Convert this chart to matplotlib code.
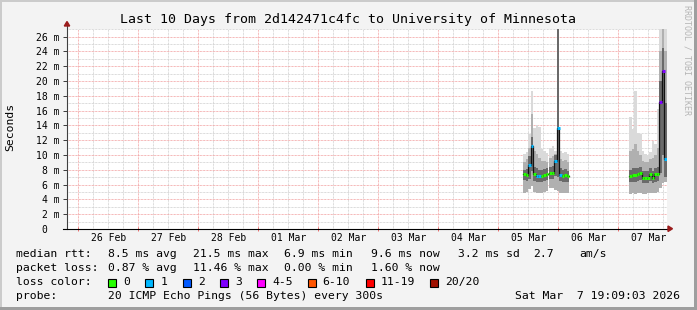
import numpy as np
import matplotlib
matplotlib.use('Agg')
import matplotlib.pyplot as plt
import matplotlib.dates as mdates
from matplotlib.patches import Rectangle, Polygon
from matplotlib.lines import Line2D

### Data (hours after 2026-03-05 00:00, one sample per hour)
hours = [10, 11, 12, 13, 14, 15, 16, 17, 18, 19,
         20.5, 21.5, 22.5, 23.5, 24.5, 25.5, 26.5, 27.5,
         52.5, 53.5, 54.5, 55.5, 56.5, 57.5, 58.5, 59.5, 60.5, 61.5, 62.5, 63.5, 64.5, 65.5, 66.5]
median = [7.4, 7.3, 8.7, 11.2, 7.4, 7.2, 7.1, 7.2, 7.3, 7.4,
          7.6, 7.6, 9.2, 13.7, 7.3, 7.1, 7.3, 7.1,
          7.1, 7.3, 7.3, 7.5, 7.6, 6.95, 6.95, 6.95, 7.5, 6.95, 7.4, 7.5, 17.2, 21.4, 9.5]
loss = [0, 0, 1, 1, 0, 1, 1, 0, 0, 0,
        0, 0, 1, 1, 1, 0, 0, 0,
        0, 0, 0, 0, 0, 0, 0, 0, 0, 0, 0, 0, 3, 3, 1]
ping_min = [4.9, 5.0, 5.4, 5.8, 5.0, 4.9, 4.8, 4.9, 5.0, 5.2,
            5.6, 5.6, 5.3, 5.2, 4.9, 4.8, 4.8, 4.9,
            4.7, 4.8, 4.7, 4.8, 4.8, 4.7, 4.7, 4.8, 4.8, 4.9, 4.8, 5.0, 5.6, 6.2, 6.3]
ping_q1 = [6.6, 6.5, 6.8, 7.8, 6.5, 6.4, 6.3, 6.4, 6.5, 6.6,
           6.8, 6.8, 7.2, 7.0, 6.5, 6.3, 6.4, 6.3,
           6.3, 6.4, 6.4, 6.5, 6.6, 6.2, 6.2, 6.2, 6.5, 6.2, 6.4, 6.5, 7.6, 10.0, 7.0]
ping_q3 = [8.0, 8.1, 9.8, 12.5, 8.4, 8.2, 8.0, 8.0, 8.1, 8.2,
           8.4, 8.5, 10.0, 40.0, 8.3, 8.0, 8.1, 7.9,
           8.0, 8.2, 8.3, 8.3, 8.4, 7.8, 7.8, 7.8, 8.3, 7.9, 8.2, 8.4, 20.0, 24.5, 17.0]
ping_p90 = [9.0, 9.4, 11.0, 15.5, 10.5, 10.2, 9.6, 9.2, 9.2, 9.0,
            9.6, 9.8, 10.2, 40.0, 9.4, 9.2, 9.3, 9.0,
            10.5, 10.8, 11.5, 10.5, 10.0, 9.2, 9.0, 9.0, 9.4, 9.6, 10.0, 11.0, 24.0, 28.0, 24.0]
ping_max = [10.1, 10.4, 12.9, 18.7, 13.6, 14.0, 13.8, 10.8, 10.6, 10.3,
            11.0, 11.2, 10.6, 40.0, 10.5, 10.3, 10.4, 10.2,
            15.1, 13.5, 18.7, 13.0, 12.9, 10.5, 10.2, 10.0, 10.4, 11.9, 11.5, 16.2, 30.0, 35.0, 30.0]

day_labels = ['26 Feb', '27 Feb', '28 Feb', '01 Mar', '02 Mar',
              '03 Mar', '04 Mar', '05 Mar', '06 Mar', '07 Mar']
loss_labels = ['0', '1', '2', '3', '4-5', '6-10', '11-19', '20/20']
loss_colors = ['#26ff00', '#00b8ff', '#0059ff', '#7e00ff', '#ff00ff', '#ff5500', '#ff0000', '#a01000']
rtt_stats = ['8.5 ms avg', '21.5 ms max', '6.9 ms min', '9.6 ms now', '3.2 ms sd', '2.7', 'am/s']
loss_stats = ['0.87 % avg', '11.46 % max', '0.00 % min', '1.60 % now']

title = 'Last 10 Days from 2d142471c4fc to University of Minnesota'
probe = '20 ICMP Echo Pings (56 Bytes) every 300s'
stamp = 'Sat Mar  7 19:09:03 2026'

### Figure setup (pixel helpers)
W, H = 697, 310
def fx(x):
    return x / W
def fy(y):
    return 1 - y / H

mono = 'DejaVu Sans Mono'
plt.rcParams['font.family'] = mono

fig = plt.figure(figsize=(W / 100, H / 100), dpi=100)
fig.patch.set_facecolor('#f3f3f3')
ax = fig.add_axes([fx(67), fy(229), 600 / W, 200 / H])
ax.set_facecolor('white')

base = np.datetime64('2026-03-05T00:00')
t = mdates.date2num(base + (np.array(hours) * 60).astype(int).astype('timedelta64[m]'))
step = 1 / 24
start = mdates.date2num(np.datetime64('2026-02-25T19:30'))
end = start + 10
ax.set_xlim(start, end)
ax.set_ylim(0, 27.03)

### Grid
for v in np.arange(np.ceil(start * 4) / 4, end, 0.25):
    major = abs(v - round(v)) < 1e-6
    ax.axvline(v, color='#f2a0a0' if major else '#cfcfcf', lw=0.72,
               dashes=(0.72, 0.72), zorder=0)
for v in range(1, 28):
    ax.axhline(v, color='#f2a0a0' if v % 2 == 0 else '#cfcfcf', lw=0.72,
               dashes=(0.72, 0.72), zorder=0)

### Smoke
lo = np.array(ping_min)
ax.bar(t, np.array(ping_max) - lo, bottom=lo, width=step, align='edge',
       color='#dadada', lw=0, zorder=2)
ax.bar(t, np.array(ping_p90) - lo, bottom=lo, width=step, align='edge',
       color='#b0b0b0', lw=0, zorder=3)
q1 = np.array(ping_q1)
ax.bar(t, np.array(ping_q3) - q1, bottom=q1, width=step, align='edge',
       color='#6a6a6a', lw=0, zorder=4)

### Median line (dark connectors, then coloured by loss)
med = np.array(median)
breaks = np.where(np.diff(hours) > 1.01)[0] + 1
for idx in np.split(np.arange(len(hours)), breaks):
    xs = np.append(t[idx], t[idx[-1]] + step)
    ys = np.append(med[idx], med[idx[-1]])
    ax.step(xs, ys, where='post', color='#111111', lw=0.9, zorder=5)
for ti, m, l in zip(t, med, loss):
    ax.hlines(m, ti, ti + step, color=loss_colors[l], lw=2.2, zorder=6)

### Axes, ticks
for s in ax.spines.values():
    s.set_visible(False)
noon = mdates.date2num(np.datetime64('2026-02-26T12:00')) + np.arange(len(day_labels))
ax.set_xticks(noon)
ax.set_xticklabels(day_labels)
ax.set_xticks(noon - 0.5, minor=True)
ax.tick_params(axis='x', which='major', length=0, pad=2.6, labelsize=7)
ax.tick_params(axis='x', which='minor', length=3.2, width=0.72, direction='inout', color='#f07070')
yt = list(range(0, 27, 2))
ax.set_yticks(yt)
ax.set_yticklabels(['0  '] + [f'{v} m' for v in yt[1:]])
ax.tick_params(axis='y', length=2.9, width=0.72, color='#404040', pad=2.2, labelsize=7)

ax.add_line(Line2D([0, 0], [0, 1 + 5 / 200], transform=ax.transAxes,
                   color='#404040', lw=0.8, clip_on=False, zorder=7))
ax.add_line(Line2D([-4 / 600, 1 + 3 / 600], [0, 0], transform=ax.transAxes,
                   color='black', lw=0.8, clip_on=False, zorder=7))
fig.add_artist(Polygon([(fx(64.3), fy(26)), (fx(69.7), fy(26)), (fx(67), fy(21.5))],
                       closed=True, color='#9b1c1c', transform=fig.transFigure))
fig.add_artist(Polygon([(fx(668), fy(226)), (fx(668), fy(231.5)), (fx(672.5), fy(228.7))],
                       closed=True, color='#9b1c1c', transform=fig.transFigure))

### Texts
fig.text(fx(348), fy(19.3), title, ha='center', va='center', fontsize=9.5)
fig.text(fx(10.7), fy(127), 'Seconds', rotation=90, ha='center', va='center', fontsize=8.2)
fig.text(fx(687), fy(60), 'RRDTOOL / TOBI OETIKER', rotation=270, ha='center', va='center',
         fontsize=6, color='#b5b5b5')

fs = 8.2
fig.text(fx(16), fy(254.3), 'median rtt:', va='center', fontsize=fs)
for x, s in zip([107.6, 193.3, 284.4, 371, 457.8, 533, 579], rtt_stats):
    fig.text(fx(x), fy(254.3), s, va='center', fontsize=fs)
fig.text(fx(16), fy(268.3), 'packet loss:', va='center', fontsize=fs)
for x, s in zip([107.6, 193.3, 284.4, 371], loss_stats):
    fig.text(fx(x), fy(268.3), s, va='center', fontsize=fs)
fig.text(fx(16), fy(282.3), 'loss color:', va='center', fontsize=fs)
box_x = [108, 145.3, 182.7, 220, 256.9, 307.6, 365.8, 429.8]
for bx, lab, c in zip(box_x, loss_labels, loss_colors):
    fig.add_artist(Rectangle((fx(bx), fy(286.5)), 8 / W, 8 / H, transform=fig.transFigure,
                             facecolor=c, edgecolor='black', lw=0.8))
    fig.text(fx(bx + 15), fy(282.3), lab, va='center', fontsize=fs)
fig.text(fx(16), fy(296), 'probe:', va='center', fontsize=fs)
fig.text(fx(107.6), fy(296), probe, va='center', fontsize=fs)
fig.text(fx(680), fy(296), stamp, va='center', ha='right', fontsize=fs)

### Frame shading
fig.add_artist(Rectangle((0, fy(2)), 1, 2 / H, transform=fig.transFigure, color='#cbcbcb', lw=0))
fig.add_artist(Rectangle((0, 0), 2 / W, 1, transform=fig.transFigure, color='#cbcbcb', lw=0))
fig.add_artist(Rectangle((0, 0), 1, 3 / H, transform=fig.transFigure, color='#9e9e9e', lw=0))
fig.add_artist(Rectangle((fx(694), 0), 3 / W, 1, transform=fig.transFigure, color='#9e9e9e', lw=0))

fig.savefig('out.png', dpi=100, facecolor=fig.get_facecolor())
